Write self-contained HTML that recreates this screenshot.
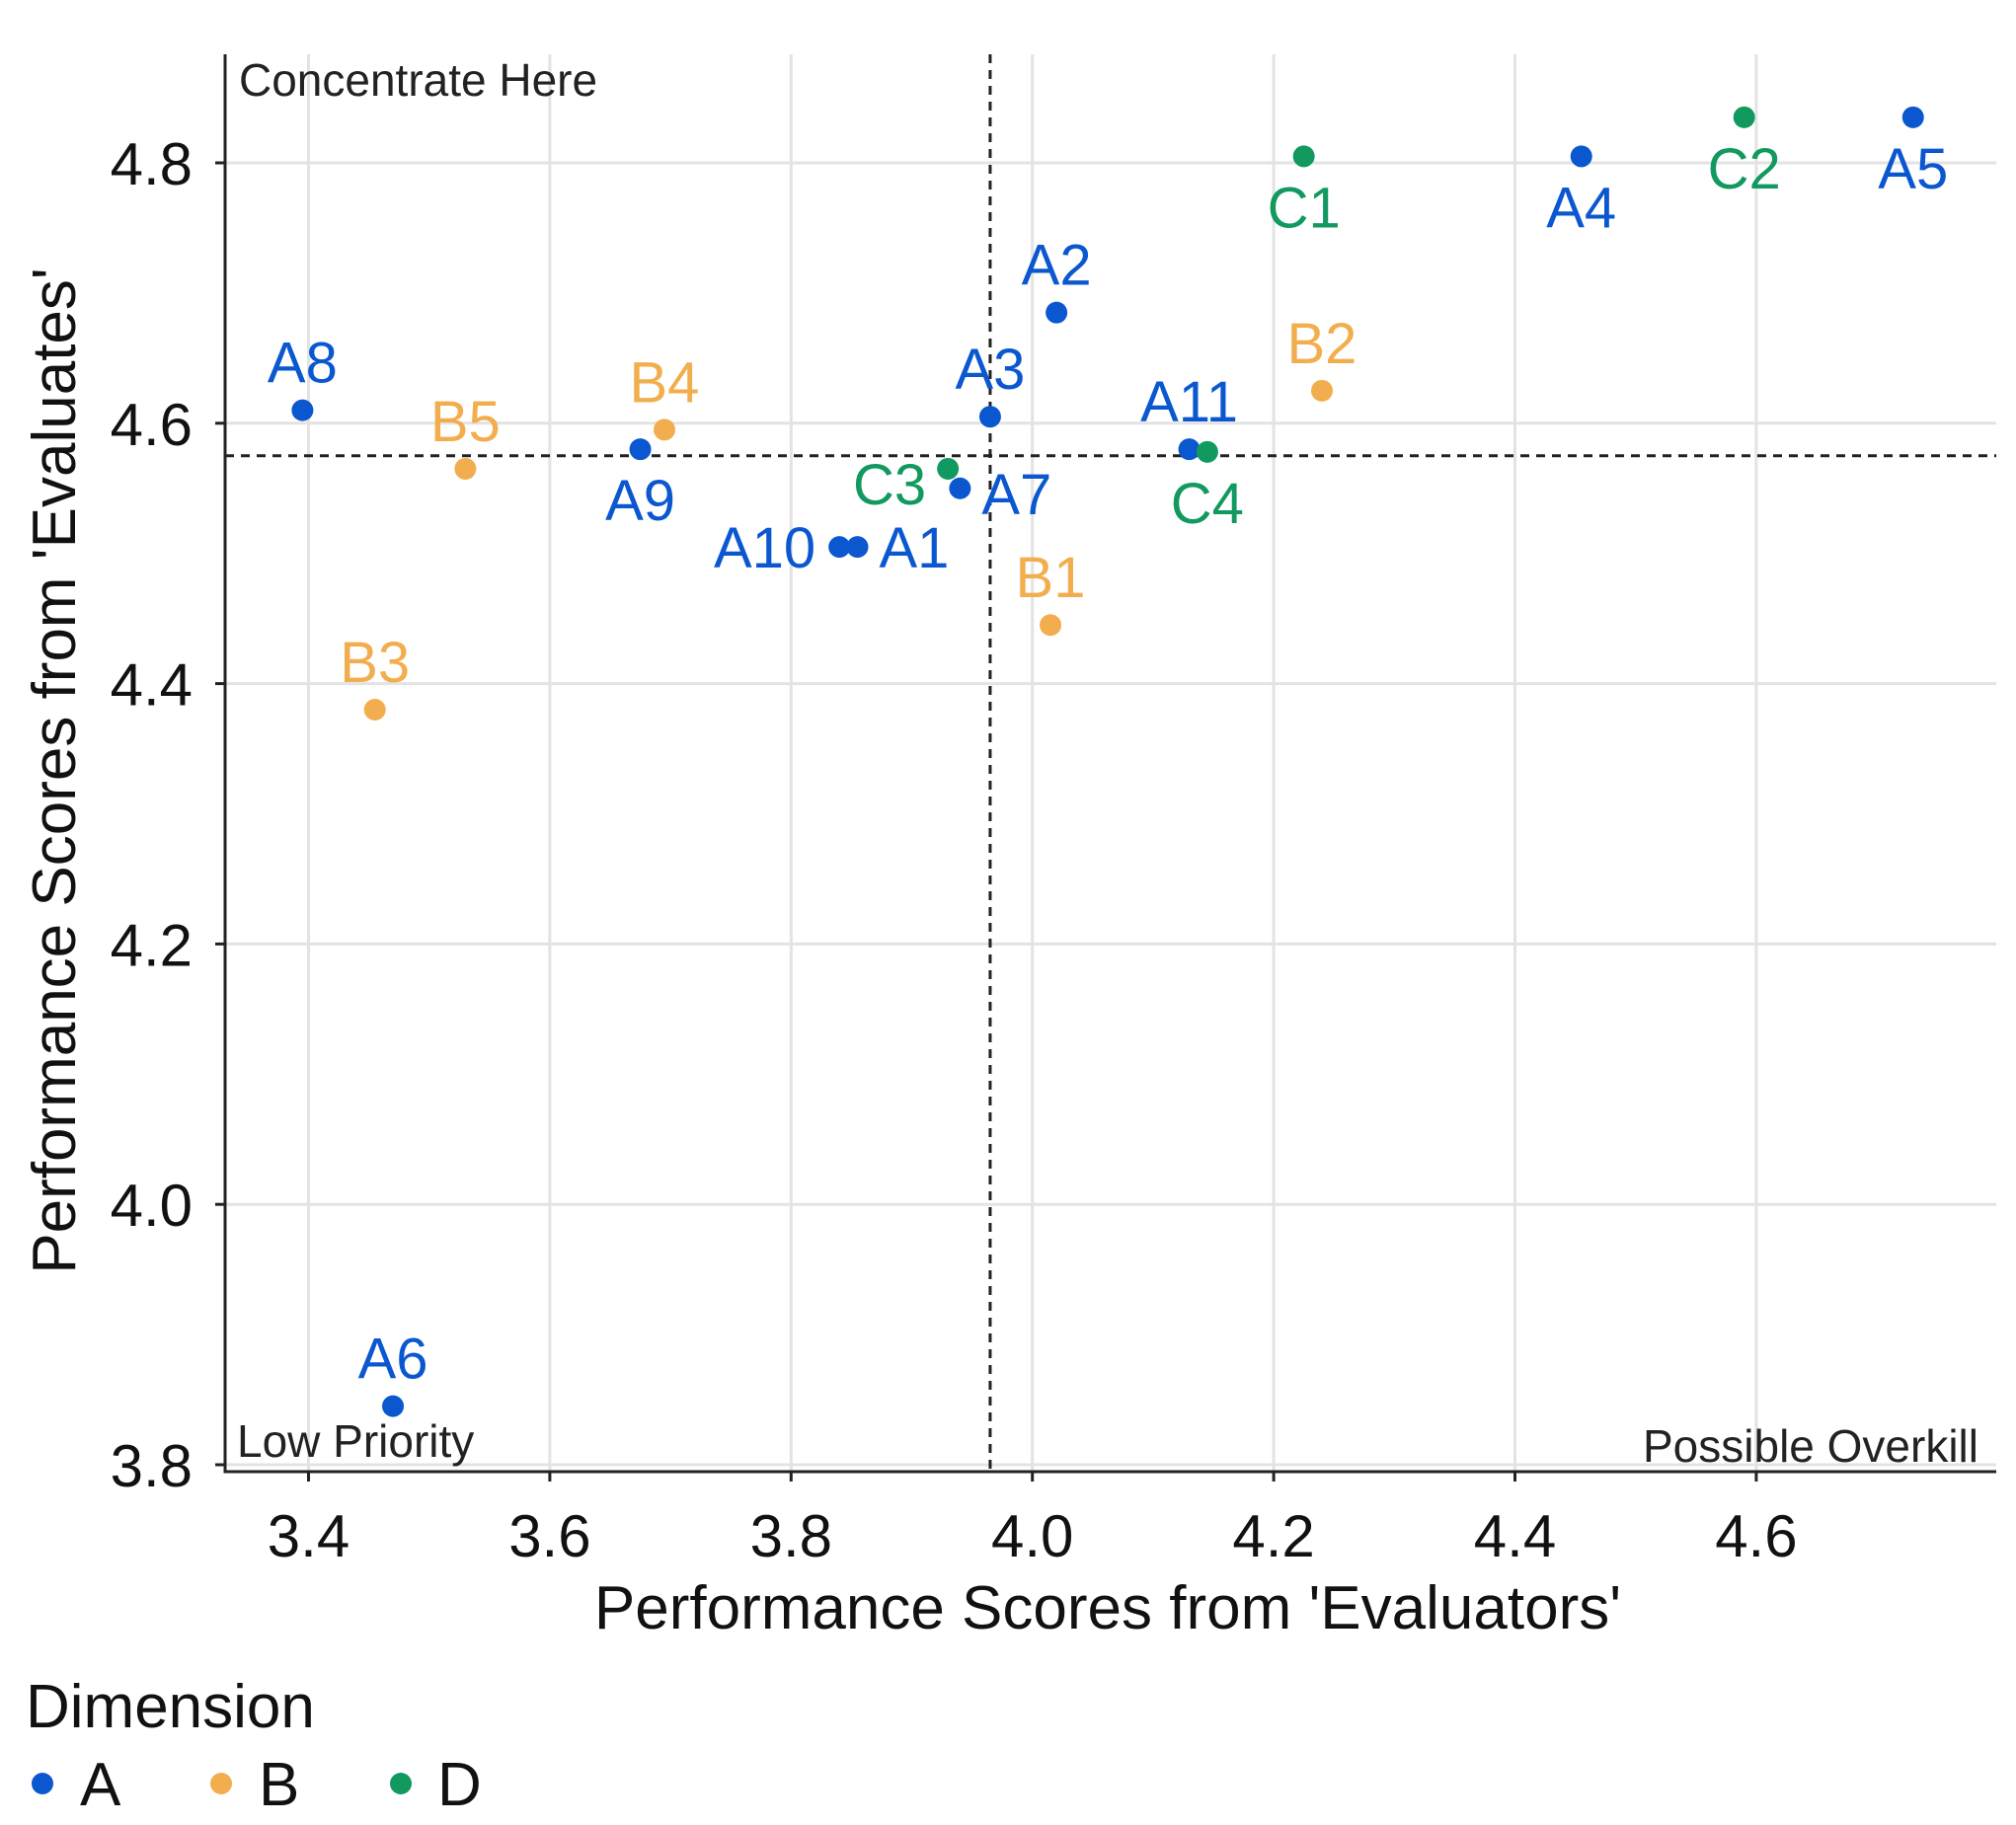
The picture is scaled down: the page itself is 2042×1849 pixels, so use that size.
<!DOCTYPE html>
<html><head><meta charset="utf-8"><style>
html,body{margin:0;padding:0;background:#fff}
svg{display:block;font-family:"Liberation Sans",sans-serif}
</style></head><body>
<svg id="chart" width="2042" height="1849" viewBox="0 0 2042 1849" xmlns="http://www.w3.org/2000/svg">
<g id="grid"></g>
<g id="refs"></g>
<g id="axes"></g>
<g id="marks"></g>
<text x="242" y="97" font-size="46" fill="#222">Concentrate Here</text>
<text x="240" y="1476" font-size="46" fill="#222">Low Priority</text>
<text x="2004" y="1481" font-size="46" fill="#222" text-anchor="end">Possible Overkill</text>
<text x="0" y="0" font-size="62" fill="#111" text-anchor="middle" transform="translate(76,781) rotate(-90)">Performance Scores from 'Evaluates'</text>
<text x="1122" y="1650" font-size="62" fill="#111" text-anchor="middle">Performance Scores from 'Evaluators'</text>
<text x="26" y="1750" font-size="62" fill="#111">Dimension</text>
<g><circle cx="43" cy="1807" r="11" fill="#0b57d0"/><text x="81" y="1829" font-size="62" fill="#111">A</text></g>
<g><circle cx="224" cy="1807" r="11" fill="#f2ae4e"/><text x="262" y="1829" font-size="62" fill="#111">B</text></g>
<g><circle cx="406" cy="1807" r="11" fill="#12995f"/><text x="443" y="1829" font-size="62" fill="#111">D</text></g>
</svg>
<script>
const names = ["A8","B5","A9","B4","A10","A1","C3","A7","A3","A2","B1","A11","C4","B2","C1","A4","C2","A5","B3","A6"];
const xVals = [3.395,3.53,3.675,3.695,3.84,3.855,3.93,3.94,3.965,4.02,4.015,4.13,4.145,4.24,4.225,4.455,4.59,4.73,3.455,3.47];
const yVals = [4.61,4.565,4.58,4.595,4.505,4.505,4.565,4.55,4.605,4.685,4.445,4.58,4.578,4.625,4.805,4.805,4.835,4.835,4.38,3.845];
const groups = ["A","B","A","B","A","A","D","A","A","A","B","A","D","B","D","A","D","A","B","A"];
const labelSides = ["above","above","below","above","left","right","leftup","right","above","above","above","above","below","above","below","below","below","below","above","above"];
const xTicks = [3.4,3.6,3.8,4.0,4.2,4.4,4.6];
const yTicks = [3.8,4.0,4.2,4.4,4.6,4.8];
const refX = 3.965, refY = 4.575;

const colors = {A:"#0b57d0",B:"#f2ae4e",D:"#12995f"};
const X0=228, X1=2022, Y0=55, Y1=1491;
const xs = v => 312.5 + (v-3.4)*1222;
const ys = v => 165 + (4.8-v)*1319;
const NS="http://www.w3.org/2000/svg";
function mk(tag, attrs, parent){const e=document.createElementNS(NS,tag);for(const k in attrs)e.setAttribute(k,attrs[k]);parent.appendChild(e);return e;}
const grid=document.getElementById('grid'), axes=document.getElementById('axes'), refs=document.getElementById('refs'), marks=document.getElementById('marks');
xTicks.forEach(t=>{
  const g=mk('line',{x1:xs(t),x2:xs(t),y1:Y0,y2:Y1,stroke:"#e3e3e3","stroke-width":3},grid);
  
  
  const tk=mk('line',{x1:xs(t),x2:xs(t),y1:Y1,y2:Y1+10,stroke:"#222","stroke-width":3},axes);
  
  
  const lb=mk('text',{x:xs(t),y:1577,"font-size":60,fill:"#111","text-anchor":"middle"},axes);
  lb.textContent=t.toFixed(1);
  
  
});
yTicks.forEach(t=>{
  const g=mk('line',{x1:X0,x2:X1,y1:ys(t),y2:ys(t),stroke:"#e3e3e3","stroke-width":3},grid);
  
  
  const tk=mk('line',{x1:X0-10,x2:X0,y1:ys(t),y2:ys(t),stroke:"#222","stroke-width":3},axes);
  
  
  const lb=mk('text',{x:195,y:ys(t)+22,"font-size":60,fill:"#111","text-anchor":"end"},axes);
  lb.textContent=t.toFixed(1);
  
  
});
const ax=mk('path',{d:`M${X0},${Y0} L${X0},${Y1} L${X1},${Y1}`,fill:"none",stroke:"#222","stroke-width":3},axes);


const rx=mk('line',{x1:xs(refX),x2:xs(refX),y1:Y0,y2:Y1,stroke:"#222","stroke-width":3,"stroke-dasharray":"9,7"},refs);


const ry=mk('line',{x1:X0,x2:X1,y1:ys(refY),y2:ys(refY),stroke:"#222","stroke-width":3,"stroke-dasharray":"9,7"},refs);


names.forEach((n,i)=>{
  const cx=xs(xVals[i]), cy=ys(yVals[i]), c=colors[groups[i]];
  const p=mk('circle',{cx:cx,cy:cy,r:11,fill:c},marks);
  
  
  let tx=cx, ty=cy-28, anc="middle";
  const s=labelSides[i];
  if(s==="below"){ty=cy+72;}
  else if(s==="left"){tx=cx-24;ty=cy+21;anc="end";}
  else if(s==="right"){tx=cx+22;ty=cy+21;anc="start";}
  else if(s==="leftup"){tx=cx-22;ty=cy+36;anc="end";}
  if(n==="A7"){ty=cy+26;}
  const t=mk('text',{x:tx,y:ty,"font-size":58,fill:c,"text-anchor":anc},marks);
  t.textContent=n;
  
  
});
</script>
</body></html>
